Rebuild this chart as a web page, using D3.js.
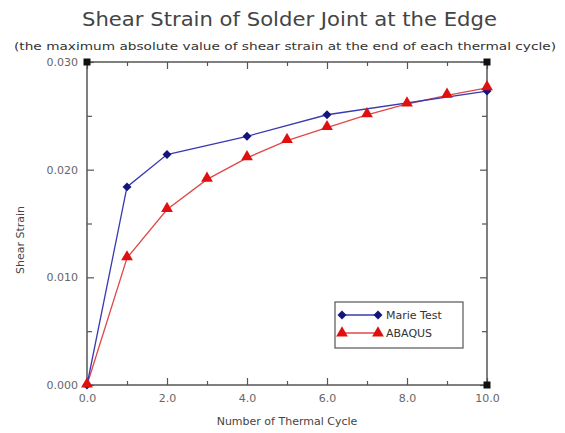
<!DOCTYPE html>
<html><head><meta charset="utf-8">
<script src="https://cdn.jsdelivr.net/npm/d3@7"></script>
<style>body{margin:0;background:#fff;} text{font-family:"DejaVu Sans",sans-serif;}</style>
</head><body><svg id="c" width="565" height="433"></svg>
<script>
const title = "Shear Strain of Solder Joint at the Edge";
const subtitle = "(the maximum absolute value of shear strain at the end of each thermal cycle)";
const xTitle = "Number of Thermal Cycle";
const yTitle = "Shear Strain";
const seriesNames = ["Marie Test", "ABAQUS"];
const marieX = [0, 1, 2, 4, 6, 10];
const marieY = [0, 0.0184, 0.0214, 0.0231, 0.0251, 0.0273];
const abaqusX = [0, 1, 2, 3, 4, 5, 6, 7, 8, 9, 10];
const abaqusY = [0, 0.0118, 0.0163, 0.0191, 0.0211, 0.0227, 0.0239, 0.0251, 0.0261, 0.0269, 0.0276];
const xMajor = [0, 2, 4, 6, 8, 10];
const xMinor = [1, 3, 5, 7, 9];
const yMajor = [0, 0.010, 0.020, 0.030];
const yMinor = [0.005, 0.015, 0.025];

(function () {
const svg = d3.select("#c");
const x = d3.scaleLinear().domain([0, 10]).range([87, 487]);
const y = d3.scaleLinear().domain([0, 0.030]).range([385, 62]);
const axisCol = "#555";
const textCol = "#444";

svg.append("text").attr("x", 82).attr("y", 26).attr("font-size", 19).attr("fill", textCol)
  .attr("textLength", 415).attr("lengthAdjust", "spacingAndGlyphs").text(title);
svg.append("text").attr("x", 14).attr("y", 50).attr("font-size", 11).attr("fill", "#333")
  .attr("textLength", 542).attr("lengthAdjust", "spacingAndGlyphs").text(subtitle);

const g = svg.append("g");
g.append("rect").attr("x", x(0)).attr("y", y(0.03)).attr("width", x(10) - x(0)).attr("height", y(0) - y(0.03))
  .attr("fill", "none").attr("stroke", axisCol).attr("stroke-width", 1.5);

const fmtY = d3.format(".3f"), fmtX = d3.format(".1f");
const axB = g.append("g").attr("transform", `translate(0,${y(0)})`)
  .call(d3.axisBottom(x).tickValues(xMajor).tickSizeInner(-7).tickSizeOuter(0).tickPadding(9).tickFormat(fmtX));
const axBm = g.append("g").attr("transform", `translate(0,${y(0)})`)
  .call(d3.axisBottom(x).tickValues(xMinor).tickSizeInner(-4).tickSizeOuter(0).tickFormat(""));
const axT = g.append("g").attr("transform", `translate(0,${y(0.03)})`)
  .call(d3.axisTop(x).tickValues(xMajor).tickSizeInner(-7).tickSizeOuter(0).tickFormat(""));
const axTm = g.append("g").attr("transform", `translate(0,${y(0.03)})`)
  .call(d3.axisTop(x).tickValues(xMinor).tickSizeInner(-4).tickSizeOuter(0).tickFormat(""));
const axL = g.append("g").attr("transform", `translate(${x(0)},0)`)
  .call(d3.axisLeft(y).tickValues(yMajor).tickSizeInner(-7).tickSizeOuter(0).tickPadding(9).tickFormat(fmtY));
const axLm = g.append("g").attr("transform", `translate(${x(0)},0)`)
  .call(d3.axisLeft(y).tickValues(yMinor).tickSizeInner(-5).tickSizeOuter(0).tickFormat(""));
const axR = g.append("g").attr("transform", `translate(${x(10)},0)`)
  .call(d3.axisRight(y).tickValues(yMajor).tickSizeInner(-7).tickSizeOuter(0).tickFormat(""));
const axRm = g.append("g").attr("transform", `translate(${x(10)},0)`)
  .call(d3.axisRight(y).tickValues(yMinor).tickSizeInner(-5).tickSizeOuter(0).tickFormat(""));
[axB, axBm, axT, axTm, axL, axLm, axR, axRm].forEach(a => {
  a.select(".domain").remove();
  a.selectAll("line").attr("stroke", axisCol).attr("stroke-width", 1.2);
  a.selectAll("text").attr("fill", "#666").attr("font-size", 11).attr("font-family", "DejaVu Sans");
});

[[10, 0.03], [0, 0.03], [10, 0]].forEach(([cx, cy]) => {
  g.append("rect").attr("x", x(cx) - 3.5).attr("y", y(cy) - 3.5).attr("width", 7).attr("height", 7).attr("fill", "#111");
});

svg.append("text").attr("x", 287).attr("y", 425).attr("text-anchor", "middle").attr("font-size", 11).attr("fill", textCol).text(xTitle);
svg.append("text").attr("transform", "translate(24,240) rotate(-90)").attr("text-anchor", "middle").attr("font-size", 11).attr("fill", textCol).text(yTitle);

const blue = "#14147e", blueLine = "#3a3ab0", red = "#e01010", redLine = "#e04848";
const marie = marieX.map((d, i) => [d, marieY[i]]);
const abaqus = abaqusX.map((d, i) => [d, abaqusY[i]]);
const line = d3.line().x(d => x(d[0])).y(d => y(d[1]));
svg.append("path").datum(abaqus).attr("d", line).attr("fill", "none").attr("stroke", redLine).attr("stroke-width", 1.3);
svg.append("path").datum(marie).attr("d", line).attr("fill", "none").attr("stroke", blueLine).attr("stroke-width", 1.3);
const diamond = d3.symbol().type(d3.symbolSquare).size(40);
const tri = d3.symbol().type(d3.symbolTriangle).size(60);
svg.selectAll(".m").data(marie).join("path").attr("class", "m").attr("d", diamond)
  .attr("transform", d => `translate(${x(d[0])},${y(d[1])}) rotate(45)`).attr("fill", blue);
svg.selectAll(".a").data(abaqus).join("path").attr("class", "a").attr("d", tri)
  .attr("transform", d => `translate(${x(d[0])},${y(d[1]) - 1})`).attr("fill", red);

const lg = svg.append("g");
lg.append("rect").attr("x", 335).attr("y", 302).attr("width", 128).attr("height", 46).attr("fill", "#fff").attr("stroke", "#555").attr("stroke-width", 1.2);
const items = [{n: seriesNames[0], c: blueLine, mc: blue, s: diamond, r: 45, yy: 315}, {n: seriesNames[1], c: redLine, mc: red, s: tri, r: 0, yy: 333}];
items.forEach(it => {
  lg.append("line").attr("x1", 342).attr("x2", 378).attr("y1", it.yy).attr("y2", it.yy).attr("stroke", it.c).attr("stroke-width", 1.3);
  [342, 378].forEach(px => lg.append("path").attr("d", it.s).attr("transform", `translate(${px},${it.yy}) rotate(${it.r})`).attr("fill", it.mc));
  lg.append("text").attr("x", 386).attr("y", it.yy + 4).attr("font-size", 11).attr("fill", "#333").text(it.n);
});
})();
</script></body></html>
